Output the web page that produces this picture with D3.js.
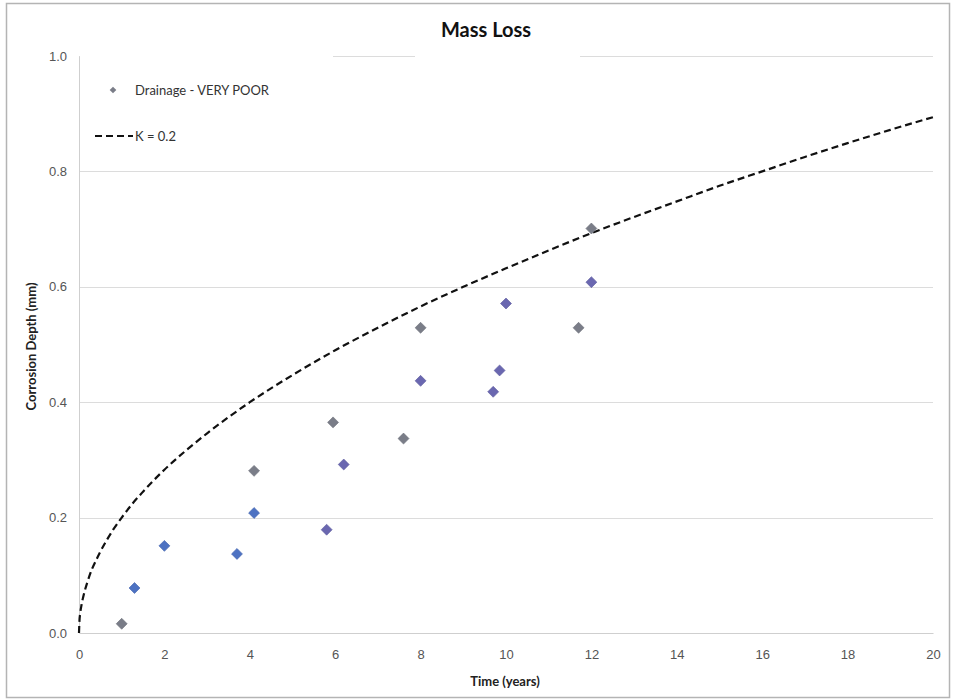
<!DOCTYPE html>
<html>
<head>
<meta charset="utf-8">
<script src="https://cdn.jsdelivr.net/npm/d3@7"></script>
<style>
  html, body { margin: 0; padding: 0; background: #fff; }
  svg { display: block; font-family: Lato, "Open Sans", "Liberation Sans", sans-serif; }
</style>
</head>
<body>
<svg id="chart" width="956" height="700"></svg>
<script>
// Measured corrosion depth, drainage class VERY POOR
const timeYears = [1.0, 1.3, 2.0, 3.7, 4.1, 4.1, 5.8, 5.95, 6.2, 7.6, 8.0, 8.0, 9.7, 9.85, 10.0, 11.7, 12.0, 12.0];
const depthMm   = [0.016, 0.078, 0.151, 0.137, 0.281, 0.208, 0.179, 0.365, 0.292, 0.337, 0.529, 0.437, 0.418, 0.455, 0.571, 0.529, 0.608, 0.701];
const sampleSet = ["A", "B", "B", "B", "A", "B", "C", "A", "C", "A", "A", "C", "C", "C", "C", "A", "C", "A"];

// Reference curve K = 0.2
const curveT = [0, 0.01, 0.03, 0.06, 0.1, 0.15, 0.2, 0.3, 0.4, 0.5, 0.65, 0.8, 1, 1.25, 1.5, 2, 2.5, 3, 4, 5, 6, 7, 8, 9, 10, 11, 12, 13, 14, 15, 16, 17, 18, 19, 20];
const curveD = [0, 0.020, 0.035, 0.049, 0.063, 0.077, 0.089, 0.110, 0.126, 0.141, 0.161, 0.179, 0.200, 0.224, 0.245, 0.283, 0.316, 0.346, 0.400, 0.447, 0.490, 0.529, 0.566, 0.600, 0.632, 0.663, 0.693, 0.721, 0.748, 0.775, 0.800, 0.825, 0.849, 0.872, 0.894];

const xTicks = [0, 2, 4, 6, 8, 10, 12, 14, 16, 18, 20];
const yTicks = [0, 0.2, 0.4, 0.6, 0.8, 1.0];

const svg = d3.select("#chart");
const m = { left: 79, right: 933, top: 56, bottom: 633 };

const x = d3.scaleLinear().domain([0, 20]).range([m.left, m.right]);
const y = d3.scaleLinear().domain([0, 1]).range([m.bottom, m.top]);
const shade = d3.scaleOrdinal().domain(["A", "B", "C"]).range(["#7a7d88", "#4d72c2", "#6a67b0"]);

// outer frame
svg.append("rect").attr("x", 6.5).attr("y", 3.5).attr("width", 943).attr("height", 694)
  .attr("fill", "#fff").attr("stroke", "#b4b4b4").attr("stroke-width", 1.5);

// horizontal gridlines
svg.append("g").selectAll("line").data(yTicks.filter(d => d > 0)).join("line")
  .attr("x1", m.left).attr("x2", m.right)
  .attr("y1", d => Math.round(y(d)) + 0.5).attr("y2", d => Math.round(y(d)) + 0.5)
  .attr("stroke", "#dcdcdc").attr("stroke-width", 1);

// y axis
const yAxis = svg.append("g").attr("transform", `translate(${m.left},0)`)
  .call(d3.axisLeft(y).tickValues(yTicks).tickFormat(d3.format(".1f")).tickSize(0).tickPadding(12));
yAxis.select(".domain").attr("stroke", "#cfcfcf");
yAxis.selectAll("text").attr("font-size", 13).attr("fill", "#555");

// x axis
const xAxis = svg.append("g").attr("transform", `translate(0,${m.bottom})`)
  .call(d3.axisBottom(x).tickValues(xTicks).tickFormat(d3.format("d")).tickSize(0).tickPadding(17));
xAxis.select(".domain").attr("stroke", "#cfcfcf");
xAxis.selectAll("text").attr("font-size", 13).attr("fill", "#555");

// title backing box over the top gridline
svg.append("rect").attr("x", 415).attr("y", 14).attr("width", 165).attr("height", 48).attr("fill", "#fff");

// reference curve
const line = d3.line().x((d, i) => x(curveT[i])).y(d => y(d)).curve(d3.curveMonotoneX);
svg.append("path").datum(curveD).attr("d", line)
  .attr("fill", "none").attr("stroke", "#111").attr("stroke-width", 2.2)
  .attr("stroke-dasharray", "7,4");

// measured points
const diamond = d3.symbol().type(d3.symbolSquare).size(60);
svg.append("g").selectAll("path").data(timeYears).join("path")
  .attr("d", diamond)
  .attr("transform", (d, i) => `translate(${x(d)},${y(depthMm[i])}) rotate(45)`)
  .attr("fill", (d, i) => shade(sampleSet[i]))
  .attr("stroke", (d, i) => d3.color(shade(sampleSet[i])).darker(0.3))
  .attr("stroke-width", 0.6);

// legend
const lg = svg.append("g");
lg.append("rect").attr("x", m.left + 1).attr("y", 46).attr("width", 253).attr("height", 54).attr("fill", "#fff");
lg.append("path").attr("d", d3.symbol().type(d3.symbolSquare).size(22))
  .attr("transform", "translate(113,90) rotate(45)").attr("fill", "#7a7d88");
lg.append("text").attr("x", 135).attr("y", 95).attr("font-size", 13).attr("fill", "#333")
  .text("Drainage - VERY POOR");
lg.append("line").attr("x1", 95).attr("x2", 133).attr("y1", 136).attr("y2", 136)
  .attr("stroke", "#111").attr("stroke-width", 2).attr("stroke-dasharray", "7,4");
lg.append("text").attr("x", 135).attr("y", 141).attr("font-size", 13).attr("fill", "#333")
  .text("K = 0.2");

// title
svg.append("text").attr("x", 486).attr("y", 37).attr("text-anchor", "middle")
  .attr("font-size", 20).attr("font-weight", "bold").attr("fill", "#111").text("Mass Loss");

// axis titles
svg.append("text").attr("x", 505).attr("y", 686).attr("text-anchor", "middle")
  .attr("font-size", 13).attr("font-weight", "bold").attr("fill", "#222").text("Time (years)");
svg.append("text").attr("transform", `translate(36,${(m.top + m.bottom) / 2 + 2}) rotate(-90)`)
  .attr("text-anchor", "middle").attr("font-size", 13).attr("font-weight", "bold").attr("fill", "#222")
  .text("Corrosion Depth (mm)");
</script>
</body>
</html>
